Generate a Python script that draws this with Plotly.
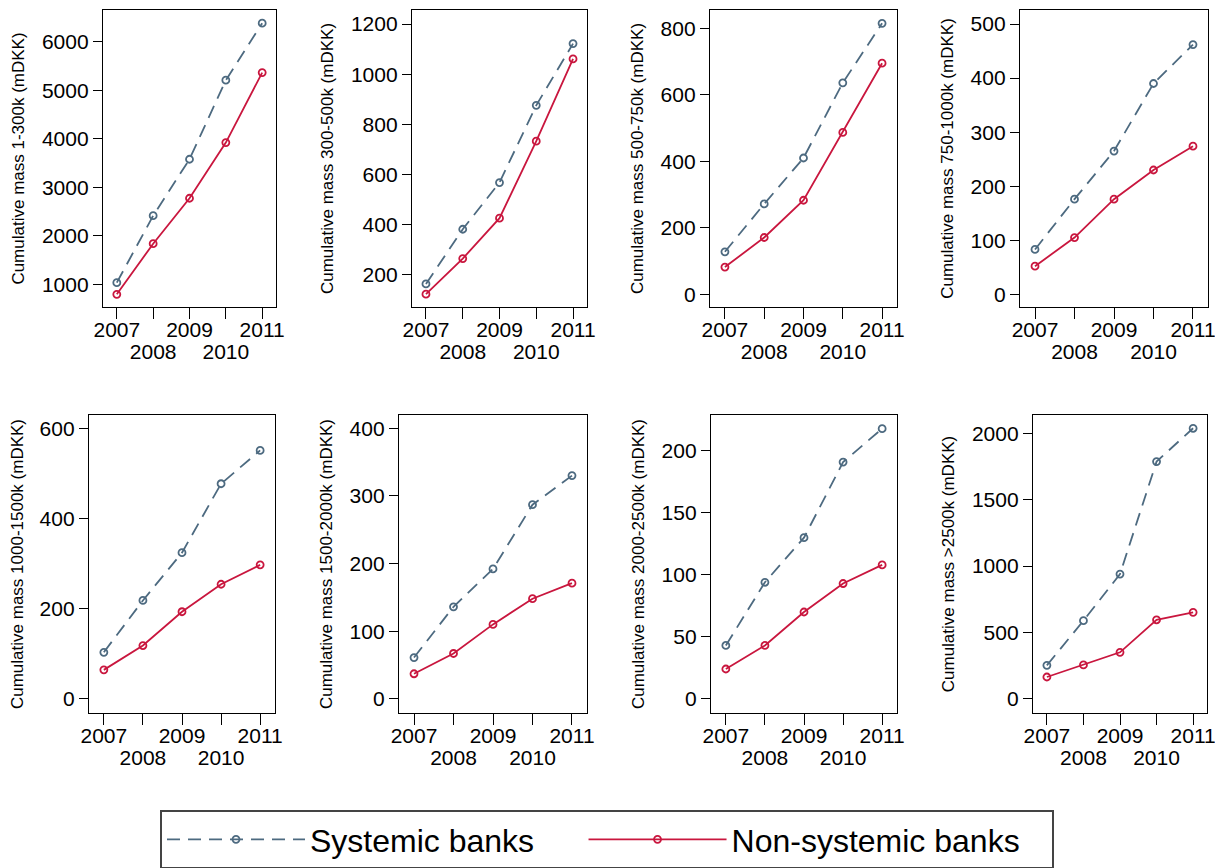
import plotly.graph_objects as go

# the page body adds an 8px margin, so the figure is drawn 8px smaller and
# every pixel position below is shifted by OFF
OFF = 8
W, H = 1223 - OFF, 868 - OFF

years = [2007, 2008, 2009, 2010, 2011]
upper_labels = ["2007", "", "2009", "", "2011"]
lower_years = [2008, 2010]
lower_labels = ["2008", "2010"]

# Cumulative mass (mDKK) by loan size band
sys_1_300 = [1033, 2414, 3577, 5206, 6381]
non_1_300 = [794, 1837, 2773, 3920, 5363]
sys_300_500 = [164, 382, 568, 876, 1122]
non_300_500 = [123, 265, 426, 733, 1061]
sys_500_750 = [128, 272, 410, 636, 815]
non_500_750 = [82, 171, 283, 487, 695]
sys_750_1000 = [83, 176, 265, 390, 462]
non_750_1000 = [52, 105, 176, 230, 274]
sys_1000_1500 = [103, 218, 324, 477, 551]
non_1000_1500 = [64, 118, 193, 254, 297]
sys_1500_2000 = [61, 136, 192, 287, 330]
non_1500_2000 = [37, 67, 110, 148, 171]
sys_2000_2500 = [43, 94, 130, 191, 218]
non_2000_2500 = [24, 43, 70, 93, 108]
sys_2500 = [253, 589, 940, 1787, 2038]
non_2500 = [165, 256, 351, 596, 652]

titles = [
    "Cumulative mass 1-300k (mDKK)",
    "Cumulative mass 300-500k (mDKK)",
    "Cumulative mass 500-750k (mDKK)",
    "Cumulative mass 750-1000k (mDKK)",
    "Cumulative mass 1000-1500k (mDKK)",
    "Cumulative mass 1500-2000k (mDKK)",
    "Cumulative mass 2000-2500k (mDKK)",
    "Cumulative mass >2500k (mDKK)",
]
systemic = [sys_1_300, sys_300_500, sys_500_750, sys_750_1000,
            sys_1000_1500, sys_1500_2000, sys_2000_2500, sys_2500]
nonsystemic = [non_1_300, non_300_500, non_500_750, non_750_1000,
               non_1000_1500, non_1500_2000, non_2000_2500, non_2500]

# panel boxes in pixels (left, right, top, bottom), y ranges and tick steps
boxes = [
    (103, 276, 10, 307), (412, 587, 10, 307), (710, 897, 10, 307), (1020, 1208, 10, 307),
    (89, 275, 415, 713), (399, 587, 415, 713), (711, 897, 415, 713), (1033, 1207, 415, 713),
]
yranges = [[532, 6653], [72, 1256], [-38, 855], [-23.5, 526],
           [-31.7, 629.5], [-21, 419.6], [-11.5, 229], [-106, 2138]]
ydticks = [1000, 200, 200, 100, 200, 100, 50, 500]
ytick0 = [1000, 200, 0, 0, 0, 0, 0, 0]
xrange_ = [2006.62, 2011.38]

SYS_COLOR = "#4d6a80"
NON_COLOR = "#c9163e"
FONT = "Arial, Liberation Sans, sans-serif"
NBSP = "\u00a0"


def px_x(v):
    return (v - OFF) / W


def px_y(v):
    return 1 - (v - OFF) / H


fig = go.Figure()
layout = {}

for i in range(8):
    n = "" if i == 0 else str(i + 1)
    m = str(i + 9)
    l, r, t, b = boxes[i]
    # Systemic banks: dashed slate line
    fig.add_trace(go.Scatter(
        x=years, y=systemic[i], xaxis="x" + n, yaxis="y" + n,
        mode="lines+markers", name="Systemic banks" + NBSP * 5, showlegend=(i == 0),
        line=dict(color=SYS_COLOR, width=1.8, dash="13px,8px"),
        marker=dict(symbol="circle-open", size=7, color=SYS_COLOR, line=dict(width=1.8)),
    ))
    # Non-systemic banks: solid red line
    fig.add_trace(go.Scatter(
        x=years, y=nonsystemic[i], xaxis="x" + n, yaxis="y" + n,
        mode="lines+markers", name="Non-systemic banks" + NBSP * 3, showlegend=(i == 0),
        line=dict(color=NON_COLOR, width=1.8),
        marker=dict(symbol="circle-open", size=7, color=NON_COLOR, line=dict(width=1.8)),
    ))
    # empty trace so the overlay axis with the second label row gets drawn
    fig.add_trace(go.Scatter(
        x=lower_years, y=[None, None], xaxis="x" + m, yaxis="y" + n,
        mode="markers", showlegend=False, hoverinfo="skip",
    ))
    layout["xaxis" + n] = dict(
        domain=[px_x(l), px_x(r)], anchor="y" + n,
        range=xrange_,
        tickmode="array", tickvals=years, ticktext=upper_labels, tickangle=0,
        ticks="outside", ticklen=11, tickwidth=1.2, tickcolor="black",
        ticklabelstandoff=-7,
        showline=True, linecolor="black", linewidth=1.3, mirror=True,
        showgrid=False, zeroline=False, automargin=False,
        tickfont=dict(size=21, color="black", family=FONT),
    )
    # staggered second row of year labels
    layout["xaxis" + m] = dict(
        domain=[px_x(l), px_x(r)], anchor="y" + n, overlaying="x" + n, side="bottom",
        range=xrange_,
        tickmode="array", tickvals=lower_years, ticktext=lower_labels, tickangle=0,
        ticks="", ticklabelstandoff=30,
        showline=False, showgrid=False, zeroline=False, automargin=False,
        tickfont=dict(size=21, color="black", family=FONT),
    )
    layout["yaxis" + n] = dict(
        domain=[px_y(b), px_y(t)], anchor="x" + n,
        range=yranges[i],
        tickmode="linear", tick0=ytick0[i], dtick=ydticks[i],
        ticks="outside", ticklen=9, tickwidth=1.2, tickcolor="black",
        showline=True, linecolor="black", linewidth=1.3, mirror=True,
        showgrid=False, zeroline=False, automargin=False,
        tickfont=dict(size=21, color="black", family=FONT),
        title=dict(text=titles[i], standoff=12,
                   font=dict(size=17, color="black", family=FONT)),
    )

fig.update_layout(
    width=W, height=H,
    margin=dict(l=0, r=0, t=0, b=0, autoexpand=False),
    paper_bgcolor="white", plot_bgcolor="white",
    font=dict(family=FONT, color="black"),
    showlegend=True,
    legend=dict(
        orientation="h", x=px_x(160), y=px_y(810), xanchor="left", yanchor="top",
        bordercolor="#444444", borderwidth=2, bgcolor="white",
        font=dict(size=32, color="black", family=FONT),
        itemwidth=138,
    ),
    **layout,
)

fig.write_html("out.html")
